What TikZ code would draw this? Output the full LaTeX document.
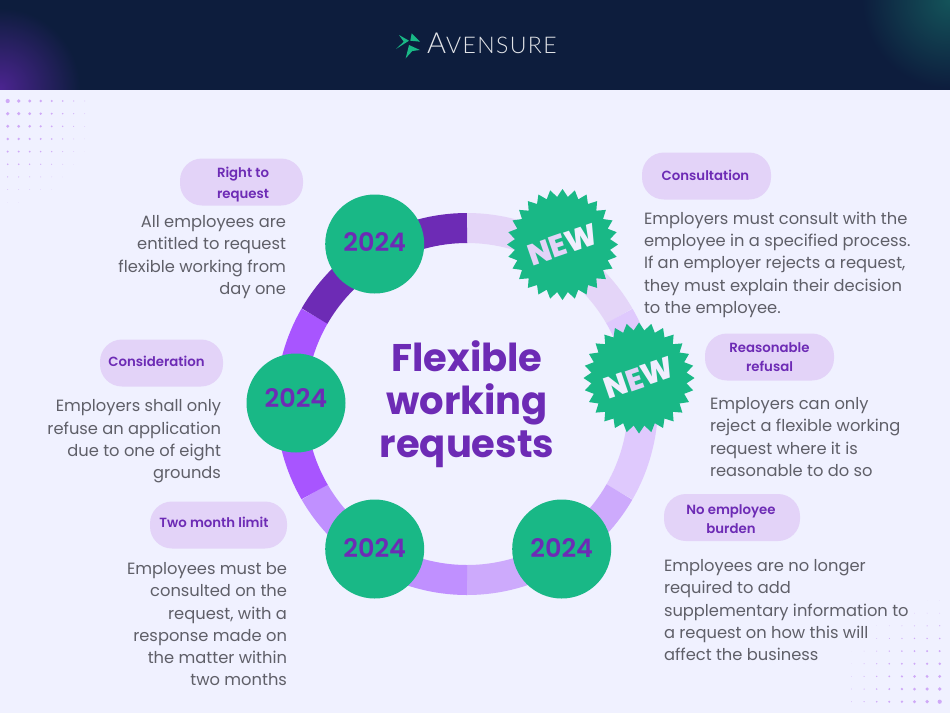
\documentclass[tikz,border=0pt]{standalone}
\usepackage{fontspec}
\setmainfont{Poppins}
\newfontfamily\logofont{Lato Light}[LetterSpace=6]
\newfontfamily\pillfont{Poppins SemiBold}
\newfontfamily\burstfont{Poppins ExtraBold}
\usepackage{xcolor}
\usepackage{tikz}
\usetikzlibrary{positioning,calc,shapes.geometric}
\definecolor{headbg}{HTML}{0D1D3D}
\definecolor{pagebg}{HTML}{F0F1FF}
\definecolor{brandpurple}{HTML}{6D2BB5}
\definecolor{brandgreen}{HTML}{19B886}
\definecolor{pillbg}{HTML}{E3D3F8}
\definecolor{bodygrey}{HTML}{5F5F68}
\definecolor{dotpurple}{HTML}{CFA9F7}
\definecolor{neww}{HTML}{F0EEFE}
\definecolor{glowpurple}{HTML}{4B2490}
\definecolor{glowteal}{HTML}{14545A}
\definecolor{ringa}{HTML}{E4D5F8}
\definecolor{ringb}{HTML}{DFC9FD}
\definecolor{ringc}{HTML}{CDAAFC}
\definecolor{ringd}{HTML}{C090FF}
\definecolor{ringe}{HTML}{A855FF}
\definecolor{ringf}{HTML}{6D2BB5}
\begin{document}
\begin{tikzpicture}[x=1pt,y=1pt,
	pill/.style={fill=pillbg,rounded corners=22pt,minimum height=47pt,inner sep=0pt},
	pilltext/.style={text=brandpurple,align=center,inner sep=0pt,font=\pillfont\fontsize{13.3}{19}\selectfont},
	bodytext/.style={text=bodygrey,inner sep=0pt,font=\fontsize{16.3}{22.3}\selectfont},
	yearbadge/.style={circle,fill=brandgreen,minimum size=99pt,inner sep=0pt},
	yeartext/.style={text=brandpurple,inner sep=0pt,font=\pillfont\fontsize{25.5}{25.5}\selectfont},
	newburst/.style={star,star points=28,star point ratio=1.16,minimum size=111pt,inner sep=0pt,fill=brandgreen},
	bursttext/.style={rotate=19,inner sep=0pt,font=\burstfont\fontsize{30}{30}\selectfont}]
	\useasboundingbox (0,0) rectangle (950,-713);
	
	% header band with its two glows
	\fill[headbg] (0,0) rectangle (950,-90);
	\begin{scope}
		\clip (0,0) rectangle (950,-90);
		\shade[inner color=glowpurple,outer color=headbg] (0,-88) circle (80);
		\shade[inner color=glowteal,outer color=headbg] (950,0) circle (88);
	\end{scope}
	\fill[pagebg] (0,-90) rectangle (950,-713);
	\fill[brandgreen] (399,-35)--(409,-40.7)--(396,-49)--(403.7,-41.7)--cycle;
	\fill[brandgreen] (411.7,-33.3)--(420,-41.7)--(410.3,-40.7)--cycle;
	\fill[brandgreen] (409,-45)--(420,-50)--(412.3,-51)--(405.7,-58.3)--cycle;
	\node[text=white!88!headbg,inner sep=0pt,anchor=base west] (logo) at (427,-53.5) {\logofont\fontsize{29}{29}\selectfont A\fontsize{23}{23}\selectfont VENSURE};
	
	% dots in the two corners
	\foreach \i in {0,...,7}{
		\foreach \j in {0,...,8}{
			\pgfmathsetmacro{\dotr}{2.1*(1-sqrt(\i*\i+\j*\j)/8.5)}
			\pgfmathtruncatemacro{\dotshow}{\dotr>0.1 ? 1 : 0}
			\ifnum\dotshow=1
				\fill[dotpurple] (7.7+11*\i,-101-12.65*\j) circle (\dotr);
				\fill[dotpurple] (939.7-12.6*\i,-701.7+12.65*\j) circle (\dotr);
			\fi
		}
	}
	
	% ring
	\coordinate (mid) at (467,-404);
	\foreach \a/\b/\c in {90/30/ringa,30/-30/ringb,-30/-90/ringc,-90/-150/ringd,-150/-210/ringe,-210/-270/ringf}{
		\draw[line width=30pt,draw=\c] ($(mid)+(\a:176)$) arc (\a:\b:176);
	}
	
	\node[text=brandpurple,align=center,font=\bfseries\fontsize{38.5}{43}\selectfont] (title) at (467,-404) {Flexible\\working\\requests};
	
	\node[yearbadge] (yeara) at (374.7,-244) {};
	\node[yearbadge] (yearb) at (296,-403) {};
	\node[yearbadge] (yearc) at (374.7,-549) {};
	\node[yearbadge] (yeard) at (561.7,-549) {};
	\node[yeartext,shift={(0,2)}] (yearat) at (yeara) {2024};
	\node[yeartext,shift={(0,5)}] (yearbt) at (yearb) {2024};
	\node[yeartext,shift={(0,1)}] (yearct) at (yearc) {2024};
	\node[yeartext,shift={(0,1)}] (yeardt) at (yeard) {2024};
	\node[newburst] (newa) at (562.5,-244.5) {};
	\node[newburst] (newb) at (639,-378) {};
	\node[bursttext] (newat) at (newa) {{\color{pillbg}NE}{\color{neww}W}};
	\node[bursttext] (newbt) at (newb) {{\color{neww}N}{\color{pillbg}E}{\color{neww}W}};
	
	\node[pill,minimum width=123pt] (rightp) at (241.5,-182) {};
	\node[pill,minimum width=123pt] (consp) at (161.5,-363) {};
	\node[pill,minimum width=137pt] (twop) at (218.5,-525) {};
	\node[pill,minimum width=129pt] (consup) at (706.5,-176) {};
	\node[pill,minimum width=129pt] (refp) at (769.5,-357) {};
	\node[pill,minimum width=136pt] (burdp) at (732,-517.5) {};
	\node[pilltext,shift={(1.5,-3)}] (rightl) at (rightp) {Right to\\[2pt]request};
	\node[pilltext,shift={(-5,2)}] (consl) at (consp) {Consideration};
	\node[pilltext,shift={(-4.5,3)}] (twol) at (twop) {Two month limit};
	\node[pilltext,shift={(-1,1)}] (consul) at (consup) {Consultation};
	\node[pilltext] (refl) at (refp) {Reasonable\\refusal};
	\node[pilltext,shift={(-1,-2)}] (burdl) at (burdp) {No employee\\burden};
	
	\node[bodytext,align=right,below=9.5pt of rightp.south east,anchor=north east,xshift=-17pt] (rightt) {All employees are\\entitled to request\\flexible working from\\day one};
	\node[bodytext,align=right,below=13pt of consp.south east,anchor=north east,xshift=-2pt] (const) {Employers shall only\\refuse an application\\due to one of eight\\grounds};
	\node[bodytext,align=right,below=13.5pt of twop.south east,anchor=north east] (twot) {Employees must be\\consulted on the\\request, with a\\response made on\\the matter within\\two months};
	\node[bodytext,align=left,below=12pt of consup.south west,anchor=north west,xshift=2pt] (consut) {Employers must consult with the\\employee in a specified process.\\If an employer rejects a request,\\they must explain their decision\\to the employee.};
	\node[bodytext,align=left,below=16.5pt of refp.south west,anchor=north west,xshift=5pt] (reft) {Employers can only\\reject a flexible working\\request where it is\\reasonable to do so};
	\node[bodytext,align=left,below=18pt of burdp.south west,anchor=north west] (burdt) {Employees are no longer\\required to add\\supplementary information to\\a request on how this will\\affect the business};
\end{tikzpicture}
\end{document}
